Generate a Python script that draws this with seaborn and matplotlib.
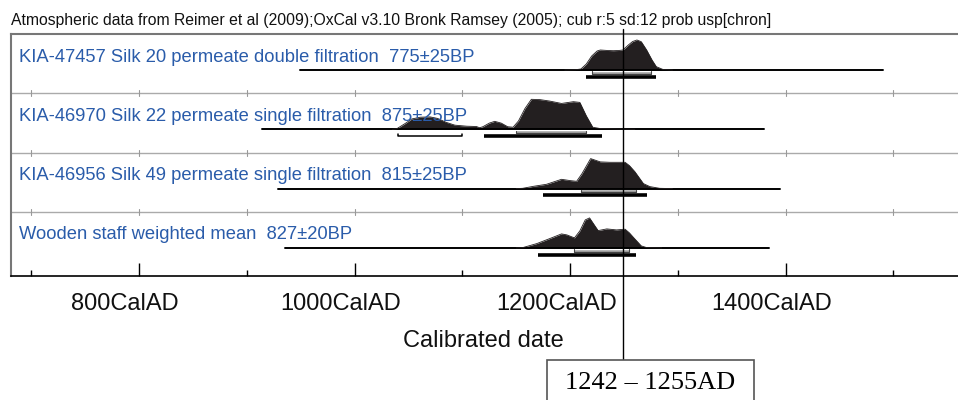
import numpy as np
import pandas as pd
import matplotlib
matplotlib.use('Agg')
import matplotlib.pyplot as plt
import matplotlib.transforms as mtransforms
from matplotlib.patches import Rectangle
import seaborn as sns

title = ('Atmospheric data from Reimer et al (2009);OxCal v3.10 Bronk Ramsey (2005); '
         'cub r:5 sd:12 prob usp[chron]')

labels = [
    'KIA-47457 Silk 20 permeate double filtration  775\u00b125BP',
    'KIA-46970 Silk 22 permeate single filtration  875\u00b125BP',
    'KIA-46956 Silk 49 permeate single filtration  815\u00b125BP',
    'Wooden staff weighted mean  827\u00b120BP',
]

# probability curves (calendar year, relative probability)
r1_year = [1195, 1205, 1210, 1215, 1220, 1225, 1228, 1235, 1240, 1245, 1249, 1254,
           1258, 1262, 1266, 1271, 1276, 1280, 1286, 1295]
r1_prob = [0, 0.3, 1, 6, 14, 19, 20, 19.5, 19.3, 19.5, 20, 25,
           28.5, 30, 28.3, 20, 10, 3.3, 0.6, 0]

r2_year = [1035, 1039, 1047, 1053, 1061, 1070, 1077, 1085, 1093, 1104, 1113, 1116,
           1119, 1125, 1130, 1136, 1142, 1147, 1152, 1158, 1164, 1172, 1181, 1192,
           1203, 1209, 1215, 1221, 1228, 1245, 1260]
r2_prob = [0, 0.5, 5.7, 10, 11.7, 12, 10.5, 6.7, 4, 3, 2.7, 1.5,
           2.5, 6, 7.7, 6, 2.5, 2, 8, 20, 29, 28.7, 27.3, 25,
           26.7, 26, 13, 2, 0.7, 0.3, 0]

r3_year = [1150, 1156, 1166, 1178, 1192, 1200, 1206, 1211, 1219, 1228, 1237, 1251,
           1255, 1260, 1268, 1274, 1283, 1295]
r3_prob = [0, 0.3, 2.3, 4.3, 9.3, 8, 7.3, 15, 30, 26.7, 26.3, 26.3,
           23, 17, 5, 2, 0.3, 0]

r4_year = [1150, 1156, 1169, 1181, 1192, 1197, 1204, 1209, 1214, 1218, 1223, 1226,
           1234, 1243, 1251, 1255, 1260, 1266, 1271, 1285]
r4_prob = [0, 0.3, 4.3, 9.3, 14, 13, 10, 17, 28, 30, 22, 17.3,
           19, 18, 18.7, 15, 9, 2, 0.3, 0]

curve_years = [r1_year, r2_year, r3_year, r4_year]
curve_probs = [r1_prob, r2_prob, r3_prob, r4_prob]

# extent of the horizontal line of each row
spans = [(949, 1490), (914, 1380), (929, 1395), (935, 1385)]

# 68.2% and 95.4% ranges
range68 = [[(1220, 1275)], [(1150, 1215)], [(1210, 1261)], [(1204, 1255)]]
range95 = [[(1215, 1280)], [(1040, 1100), (1120, 1230)], [(1175, 1271)], [(1170, 1261)]]

major_ticks = [800, 1000, 1200, 1400]
minor_ticks = [700, 900, 1100, 1300, 1500]
tick_labels = ['800CalAD', '1000CalAD', '1200CalAD', '1400CalAD']
grid_years = [700, 800, 900, 1000, 1100, 1200, 1300, 1400, 1500]

combined_year = 1249
combined_label = '1242 \u2013 1255AD'

# ---- style
sns.set_theme(style='white')
plt.rcParams['font.family'] = ['Liberation Sans', 'DejaVu Sans']
plt.rcParams['text.color'] = '#111111'
plt.rcParams['xtick.color'] = '#111111'

blue = '#2a5caa'
fill = '#231f20'

fig = plt.figure(figsize=(9.58, 4), dpi=100)
ax = fig.add_axes([11 / 958, 124 / 400, 947 / 958, 242 / 400])
ax.set_xlim(681, 1560)
ax.set_ylim(0, 242)

row_h = 59.3
peak = 30

for i in range(4):
    top = 242 - i * row_h
    base = top - 36

    # separator with small crosses
    if i > 0:
        ax.axhline(top, color='#aaaaaa', lw=1)
        for yr in grid_years:
            ax.plot([yr, yr], [top - 3, top + 3], color='#999999', lw=0.8)

    # row line
    ax.plot(spans[i], [base, base], color='black', lw=1.4)

    # probability
    df = pd.DataFrame({'year': curve_years[i], 'prob': curve_probs[i]})
    df['y'] = base + df['prob'] / df['prob'].max() * peak
    ax.fill_between(df['year'], base, df['y'], color=fill, lw=0)
    sns.lineplot(data=df, x='year', y='y', ax=ax, color=fill, lw=0.6,
                 sort=False, estimator=None)

    # ranges
    for a, b in range68[i]:
        y = base - 2.8
        ax.plot([a, b], [y, y], color='#a0a0a0', lw=1.8, solid_capstyle='butt')
        ax.plot([a, a, b, b], [y + 1.5, y - 1, y - 1, y + 1.5], color='#444444', lw=0.8)
    for k, (a, b) in enumerate(range95[i]):
        y = base - 6.8
        if i == 1 and k == 0:
            ax.plot([a, a, b, b], [y + 2.5, y, y, y + 2.5], color='black', lw=1.1)
        else:
            ax.plot([a, b], [y, y], color='black', lw=2.6, solid_capstyle='butt')

    ax.text(688, top - 23, labels[i], color=blue, fontsize=13.2, va='center', ha='left')

# axes
ax.set_ylabel('')
ax.set_xlabel('')
ax.set_yticks([])
ax.set_xticks(major_ticks, tick_labels)
ax.set_xticks(minor_ticks, minor=True)
ax.tick_params(axis='x', which='major', direction='in', length=9.4, width=1,
               color='black', pad=12, labelsize=17, bottom=True, top=False)
ax.tick_params(axis='x', which='minor', direction='in', length=4.3, width=1,
               color='black', bottom=True, top=False)
offset = mtransforms.ScaledTranslation(-0.14, 0, fig.dpi_scale_trans)
for lab in ax.get_xticklabels():
    lab.set_transform(lab.get_transform() + offset)

for s in ['top', 'left']:
    ax.spines[s].set_color('#777777')
    ax.spines[s].set_linewidth(1.5)
ax.spines['bottom'].set_color('black')
ax.spines['bottom'].set_linewidth(1.2)
ax.spines['right'].set_visible(False)

# combined range marker
trans = mtransforms.blended_transform_factory(ax.transData, ax.transAxes)
ax.plot([combined_year, combined_year], [(276 - 29) / 242, (276 - 360) / 242],
        transform=trans, color='black', lw=1, clip_on=False, zorder=5)

box = Rectangle((547 / 958, -5 / 400), 207 / 958, 45 / 400, transform=fig.transFigure,
                facecolor='white', edgecolor='#555555', lw=1.2)
fig.patches.append(box)
fig.text(650.5 / 958, (400 - 383) / 400, combined_label, family=['Liberation Serif', 'DejaVu Serif'],
         fontsize=19, ha='center', va='center', color='black')

fig.text(483.5 / 958, (400 - 341) / 400, 'Calibrated date', fontsize=17,
         ha='center', va='center')
fig.text(11 / 958, (400 - 21) / 400, title, fontsize=11.3, ha='left', va='center')

fig.savefig('out.png', dpi=100)
